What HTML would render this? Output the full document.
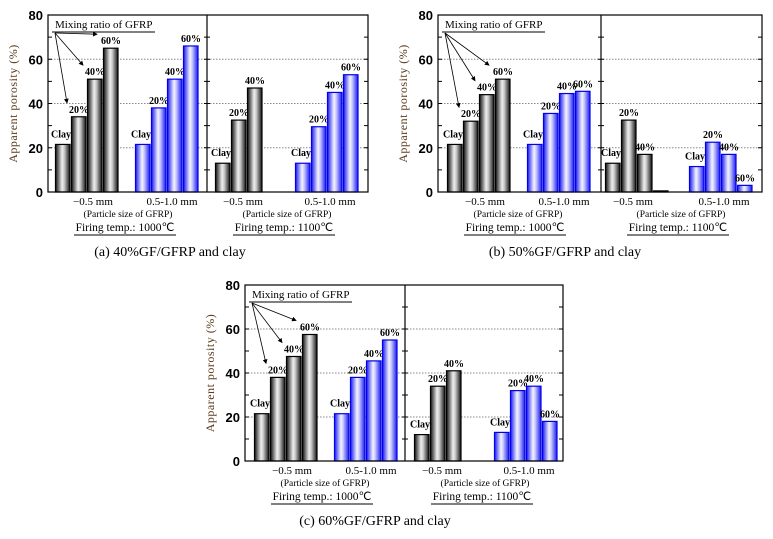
<!DOCTYPE html>
<html><head><meta charset="utf-8">
<style>
body{margin:0;background:#fff;}
svg{display:block;}
text{font-family:"Liberation Serif",serif;}
.tk{font-family:"Liberation Sans",sans-serif;font-size:13px;font-weight:bold;}
</style></head><body>
<svg id="chart" width="773" height="539" viewBox="0 0 773 539" xmlns="http://www.w3.org/2000/svg">
<defs>
<linearGradient id="gk" x1="0" x2="1" y1="0" y2="0">
<stop offset="0" stop-color="#111"/><stop offset="0.45" stop-color="#eee"/><stop offset="0.6" stop-color="#ccc"/><stop offset="1" stop-color="#111"/>
</linearGradient>
<linearGradient id="gb" x1="0" x2="1" y1="0" y2="0">
<stop offset="0" stop-color="#1a1aee"/><stop offset="0.45" stop-color="#f4f4ff"/><stop offset="0.6" stop-color="#c8c8ff"/><stop offset="1" stop-color="#1a1aee"/>
</linearGradient>
<marker id="ah" markerWidth="6" markerHeight="6" refX="5" refY="3" orient="auto"><path d="M0,0 L6,3 L0,6 z" fill="#000"/></marker>
</defs>
</svg>
<script>
const NS="http://www.w3.org/2000/svg";
const svg=document.getElementById('chart');
const ticks=[0,20,40,60,80];
const seriesLabels=['Clay','20%','40%','60%'];
// panel (a) 40%GF/GFRP
const a1000small=[21.5,34,51,65];
const a1000large=[21.5,38,51,66];
const a1100small=[13,32.5,47];
const a1100large=[13,29.5,45,53];
// panel (b) 50%GF/GFRP
const b1000small=[21.5,32,44,51];
const b1000large=[21.5,35.5,44.5,45.5];
const b1100small=[13,32.5,17,0.5];
const b1100large=[11.5,22.5,17,3];
// panel (c) 60%GF/GFRP
const c1000small=[21.5,38,47.5,57.5];
const c1000large=[21.5,38,45.5,55];
const c1100small=[12,34,41];
const c1100large=[13,32,34,18];
const captions=['(a) 40%GF/GFRP and clay','(b) 50%GF/GFRP and clay','(c) 60%GF/GFRP and clay'];

function el(tag,attrs,parent,txt){const e=document.createElementNS(NS,tag);for(const k in attrs)e.setAttribute(k,attrs[k]);if(txt!==undefined)e.textContent=txt;(parent||svg).appendChild(e);return e;}

function panel(p){
  const g=el('g',{});
  
  
  const y=v=>p.bot-(p.bot-p.top)*v/80;
  [20,40,60].forEach(v=>{
    const l=el('line',{x1:p.left,x2:p.right,y1:y(v),y2:y(v),stroke:'#888','stroke-dasharray':'1.5,1.5','stroke-width':1},g);
    
    
  });
  for(let v=10;v<80;v+=10){
    el('line',{x1:p.left,x2:p.left+4,y1:y(v),y2:y(v),stroke:'#000'},g);
    el('line',{x1:p.right-4,x2:p.right,y1:y(v),y2:y(v),stroke:'#000'},g);
    el('line',{x1:p.div-3,x2:p.div+3,y1:y(v),y2:y(v),stroke:'#000'},g);
  }
  ticks.forEach(v=>{
    const t=el('text',{x:p.left-5,y:y(v)+5,'text-anchor':'end',class:'tk'},g,String(v));
    
    
  });
  const yt=el('text',{transform:`translate(${p.left-31},${(p.top+p.bot)/2}) rotate(-90)`,'text-anchor':'middle','font-size':'12px',fill:'#5a3a1a','letter-spacing':'0.5'},g,'Apparent porosity    (%)');
  
  
  const groups=[[p.d[0],p.g[0],'k'],[p.d[1],p.g[1],'b'],[p.d[2],p.g[2],'k'],[p.d[3],p.g[3],'b']];
  groups.forEach(([vals,x0,c])=>{
    vals.forEach((v,i)=>{
      const x=x0+i*16;
      const r=el('rect',{x:x+0.5,y:y(v),width:14.5,height:Math.max(0.5,p.bot-y(v)),fill:c==='k'?'url(#gk)':'url(#gb)',stroke:c==='k'?'#000':'#0000ee','stroke-width':1.2},g);
      
      
      if(v>=2){
        const t=el('text',{x:x+(i===0?6:8),y:y(v)-(i===0?7:4),'text-anchor':'middle','font-size':'10px','font-weight':'bold'},g,seriesLabels[i]);
        
        
      }
    });
  });
  el('rect',{x:p.left,y:p.top,width:p.right-p.left,height:p.bot-p.top,fill:'none',stroke:'#000','stroke-width':1.2},g);
  el('line',{x1:p.div,x2:p.div,y1:p.top,y2:p.bot,stroke:'#000','stroke-width':1.2},g);
  const ax=p.left+7, ay=p.top+17;
  const lt=el('text',{x:ax,y:p.top+13,'font-size':'11px'},g,'Mixing ratio of GFRP');
  
  
  el('line',{x1:ax-3,x2:ax+100,y1:ay,y2:ay,stroke:'#000'},g);
  const g0=p.g[0];const vals=p.d[0];
  [1,2,3].forEach(i=>{
    el('line',{x1:ax,y1:ay+1,x2:g0+i*16-4+(i===3?-2:0),y2:y(vals[i])-14,stroke:'#000','stroke-width':0.8,'marker-end':'url(#ah)'},g);
  });
  [[p.g[0]+38,'\u22120.5 mm'],[p.g[1]+37,'0.5-1.0 mm'],[p.g[2]+28,'\u22120.5 mm'],[p.g[3]+35,'0.5-1.0 mm']].forEach(([x,s])=>{
    const t=el('text',{x:x,y:p.bot+13,'text-anchor':'middle','font-size':'11px'},g,s);
    
    
  });
  [[p.left+80,'1000'],[p.div+80,'1100']].forEach(([x,s])=>{
    const t=el('text',{x:x,y:p.bot+25,'text-anchor':'middle','font-size':'9.5px'},g,'(Particle size of GFRP)');
    
    
    const f=el('text',{x:x-3,y:p.bot+39,'text-anchor':'middle','font-size':'11.5px'},g,'Firing temp.: '+s+'\u2103');
    
    
    el('line',{x1:x-54,x2:x+48,y1:p.bot+43,y2:p.bot+43,stroke:'#000'},g);
  });
  const cp=el('text',{x:p.cx,y:p.bot+64,'text-anchor':'middle','font-size':'14px'},g,p.cap);
  
  
}
panel({id:'a',left:48,right:368,top:15,bot:192,div:207,g:[55,135,215,295],d:[a1000small,a1000large,a1100small,a1100large],cap:captions[0],cx:170});
panel({id:'b',left:438,right:762,top:15,bot:192,div:601,g:[447,527,605,689],d:[b1000small,b1000large,b1100small,b1100large],cap:captions[1],cx:565});
panel({id:'c',left:245,right:563,top:285,bot:461,div:405,g:[254,334,414,494],d:[c1000small,c1000large,c1100small,c1100large],cap:captions[2],cx:375});
</script>
</body></html>
